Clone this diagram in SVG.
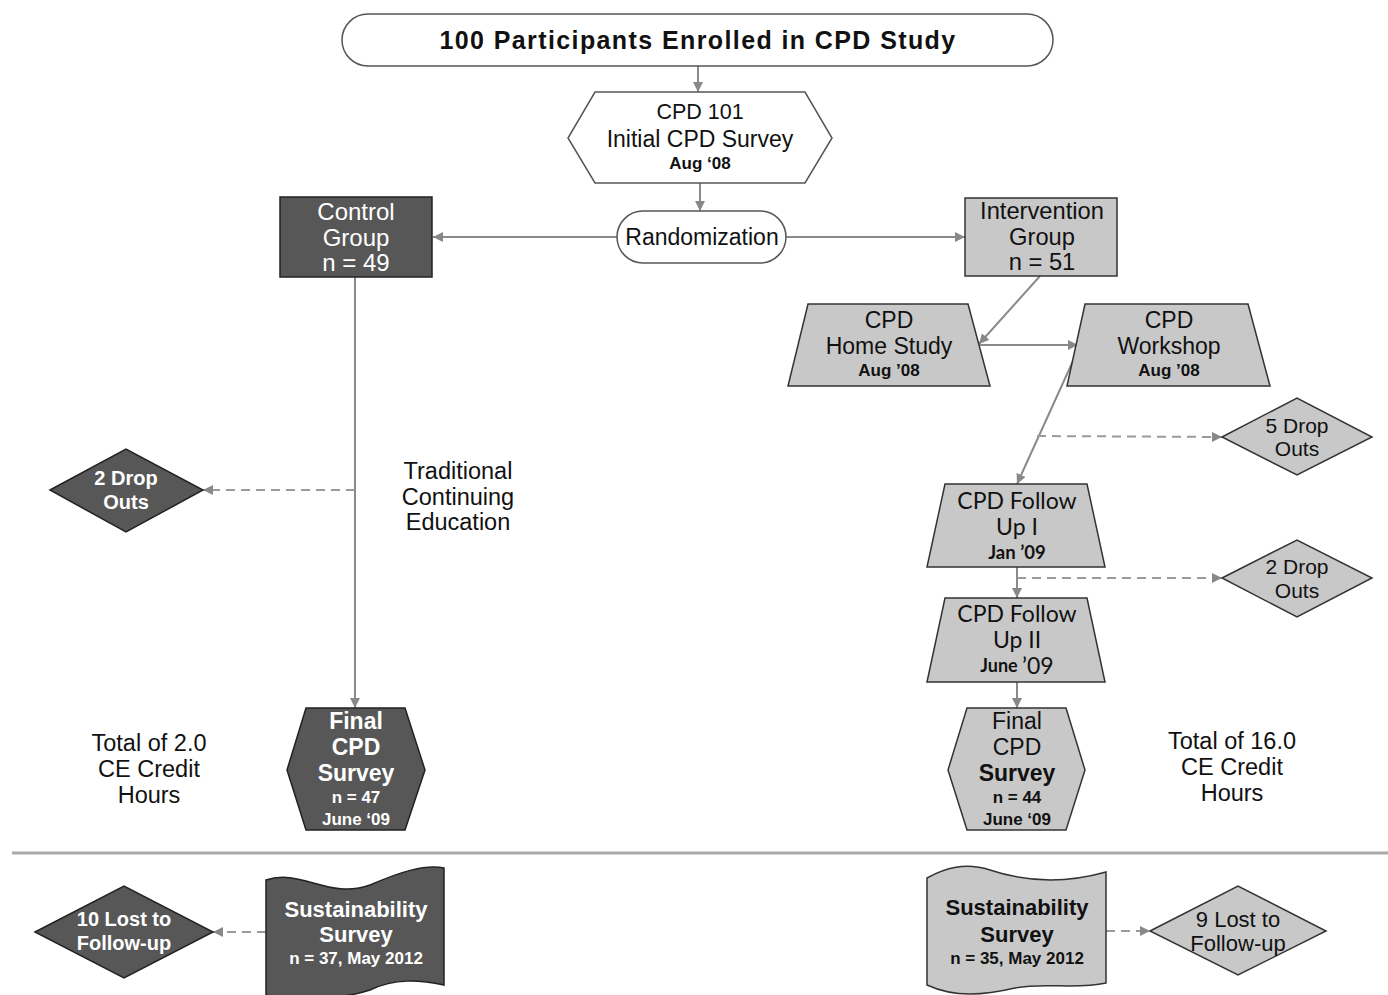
<svg xmlns="http://www.w3.org/2000/svg" width="1388" height="995" viewBox="0 0 1388 995">
<defs>
<marker id="ah" viewBox="0 0 10 10" refX="10" refY="5" markerWidth="10" markerHeight="10" markerUnits="userSpaceOnUse" orient="auto">
<path d="M0,0 L10,5 L0,10 z" fill="#888"/>
</marker>
</defs>
<style>
.c{stroke:#8a8a8a;stroke-width:2;fill:none;marker-end:url(#ah)}
.d{stroke:#9a9a9a;stroke-width:2;fill:none;stroke-dasharray:9,6;marker-end:url(#ah)}
.w{fill:#fff;stroke:#555;stroke-width:1.5}
.dk{fill:#575757;stroke:#222;stroke-width:1.5}
.lt{fill:#c8c8c8;stroke:#333;stroke-width:1.5}
text{font-family:"Liberation Sans",Arial,sans-serif;text-anchor:middle;dominant-baseline:central;fill:#111}
.n{font-size:23px}
.s{font-size:17px;font-weight:bold}
.wt{fill:#fff}
.b{font-weight:bold}
.l{font-family:Lato,"Liberation Sans",sans-serif}
</style>

<g id="connectors">
<line class="c" x1="698" y1="66" x2="698" y2="92"/>
<line class="c" x1="700" y1="183" x2="700" y2="211"/>
<line class="c" x1="617" y1="237" x2="433" y2="237"/>
<line class="c" x1="786" y1="237" x2="965" y2="237"/>
<line class="c" x1="1040" y1="276" x2="979" y2="344"/>
<line class="c" x1="980" y1="345" x2="1078" y2="345"/>
<line class="c" x1="1078" y1="350" x2="1017" y2="484"/>
<line class="d" x1="1037" y1="436" x2="1222" y2="437"/>
<line class="c" x1="1017" y1="567" x2="1017" y2="598"/>
<line class="d" x1="1017" y1="578" x2="1222" y2="578"/>
<line class="c" x1="1017" y1="682" x2="1017" y2="708"/>
<line class="c" x1="355" y1="277" x2="355" y2="708"/>
<line class="d" x1="355" y1="490" x2="203" y2="490"/>
<line class="d" x1="266" y1="932" x2="213" y2="932"/>
<line class="d" x1="1106" y1="931" x2="1150" y2="931"/>
<line x1="12" y1="853" x2="1388" y2="853" stroke="#aaa" stroke-width="3"/>
</g>

<g id="enrolled">
<rect class="w" x="342" y="14" width="711" height="52" rx="26"/>
<text x="698" y="40" font-size="25" font-weight="bold" letter-spacing="1.4">100 Participants Enrolled in CPD Study</text>
</g>

<g id="cpd101">
<polygon class="w" points="595,92 805,92 832,138 805,183 595,183 568,138"/>
<text x="700" y="112" font-size="21.5">CPD 101</text>
<text class="n" x="700" y="139">Initial CPD Survey</text>
<text class="s" x="700" y="163">Aug ‘08</text>
</g>

<g id="randomization">
<rect class="w" x="617" y="211" width="169" height="52" rx="26"/>
<text class="n" x="702" y="237">Randomization</text>
</g>

<g id="control">
<rect class="dk" x="280" y="197" width="152" height="80"/>
<text class="wt" font-size="24" x="356" y="211">Control</text>
<text class="wt" font-size="24" x="356" y="237">Group</text>
<text class="wt" font-size="24" x="356" y="262">n = 49</text>
</g>

<g id="intervention">
<rect class="lt" x="965" y="198" width="152" height="78"/>
<text font-size="23.7" x="1042" y="211">Intervention</text>
<text font-size="23.7" x="1042" y="237">Group</text>
<text font-size="23.7" x="1042" y="262">n = 51</text>
</g>

<g id="homestudy">
<polygon class="lt" points="808,304 968,304 990,386 788,386"/>
<text class="n" x="889" y="320">CPD</text>
<text class="n" x="889" y="346">Home Study</text>
<text class="s" x="889" y="370">Aug ’08</text>
</g>

<g id="workshop">
<polygon class="lt" points="1085,304 1248,304 1270,386 1067,386"/>
<text class="n" x="1169" y="320">CPD</text>
<text class="n" x="1169" y="346">Workshop</text>
<text class="s" x="1169" y="370">Aug ’08</text>
</g>

<g id="drop5">
<polygon class="lt" points="1222,437 1297,398 1372,437 1297,475"/>
<text font-size="21" x="1297" y="425">5 Drop</text>
<text font-size="21" x="1297" y="448">Outs</text>
</g>

<g id="followup1">
<polygon class="lt" points="945,484 1087,484 1105,567 927,567"/>
<text class="n l" x="1017" y="500">CPD Follow</text>
<text class="n l" x="1017" y="526">Up I</text>
<text class="l" font-size="18.5" font-weight="bold" x="1017" y="552">Jan ’09</text>
</g>

<g id="drop2r">
<polygon class="lt" points="1222,578 1297,540 1372,578 1297,617"/>
<text font-size="21" x="1297" y="566">2 Drop</text>
<text font-size="21" x="1297" y="590">Outs</text>
</g>

<g id="followup2">
<polygon class="lt" points="945,598 1087,598 1105,682 927,682"/>
<text class="n l" x="1017" y="613">CPD Follow</text>
<text class="n l" x="1017" y="639">Up II</text>
<text class="l" x="1017" y="665"><tspan font-size="18" font-weight="bold">June </tspan><tspan font-size="23">’09</tspan></text>
</g>

<g id="finalR">
<polygon class="lt" points="967,708 1066,708 1085,770 1066,830 967,830 948,770"/>
<text class="n" x="1017" y="721">Final</text>
<text class="n" x="1017" y="747">CPD</text>
<text class="n b" x="1017" y="773">Survey</text>
<text class="s" x="1017" y="797">n = 44</text>
<text class="s" x="1017" y="819">June ‘09</text>
</g>

<g id="finalL">
<polygon class="dk" points="306,708 405,708 425,770 405,830 306,830 287,770"/>
<text class="n wt b" x="356" y="721">Final</text>
<text class="n wt b" x="356" y="747">CPD</text>
<text class="n wt b" x="356" y="773">Survey</text>
<text class="s wt" x="356" y="797">n = 47</text>
<text class="s wt" x="356" y="819">June ‘09</text>
</g>

<g id="drop2l">
<polygon class="dk" points="50,490 126,449 203,490 126,532"/>
<text class="wt b" font-size="20" x="126" y="478">2 Drop</text>
<text class="wt b" font-size="20" x="126" y="502">Outs</text>
</g>

<g id="traditional">
<text font-size="23.5" x="458" y="471">Traditional</text>
<text font-size="23.5" x="458" y="497">Continuing</text>
<text font-size="23.5" x="458" y="522">Education</text>
</g>

<g id="totalL">
<text font-size="23.5" x="149" y="743">Total of 2.0</text>
<text font-size="23.5" x="149" y="769">CE Credit</text>
<text font-size="23.5" x="149" y="795">Hours</text>
</g>

<g id="totalR">
<text font-size="23.5" x="1232" y="741">Total of 16.0</text>
<text font-size="23.5" x="1232" y="767">CE Credit</text>
<text font-size="23.5" x="1232" y="793">Hours</text>
</g>

<g id="sustL">
<path class="dk" d="M266,880 C300,868 330,900 370,885 C400,872 425,864 444,868 L444,985 C420,980 395,978 370,990 C340,1000 300,1000 266,995 Z"/>
<text class="wt b" font-size="22" x="356" y="909">Sustainability</text>
<text class="wt b" font-size="22" x="356" y="934">Survey</text>
<text class="s wt" font-size="17.5" x="356" y="958">n = 37, May 2012</text>
</g>

<g id="lost10">
<polygon class="dk" points="35,932 124,886 213,932 124,978"/>
<text class="wt b" font-size="20" x="124" y="919">10 Lost to</text>
<text class="wt b" font-size="20" x="124" y="943">Follow-up</text>
</g>

<g id="sustR">
<path class="lt" d="M927,878 C945,868 965,862 990,870 C1020,880 1060,885 1106,872 L1106,983 C1075,990 1045,982 1015,988 C985,995 955,998 927,985 Z"/>
<text class="b" font-size="22" x="1017" y="907">Sustainability</text>
<text class="b" font-size="22" x="1017" y="934">Survey</text>
<text class="s" font-size="17.5" x="1017" y="958">n = 35, May 2012</text>
</g>

<g id="lost9">
<polygon class="lt" points="1150,931 1238,886 1326,931 1238,975"/>
<text font-size="22" x="1238" y="919">9 Lost to</text>
<text font-size="22" x="1238" y="943">Follow-up</text>
</g>
</svg>
